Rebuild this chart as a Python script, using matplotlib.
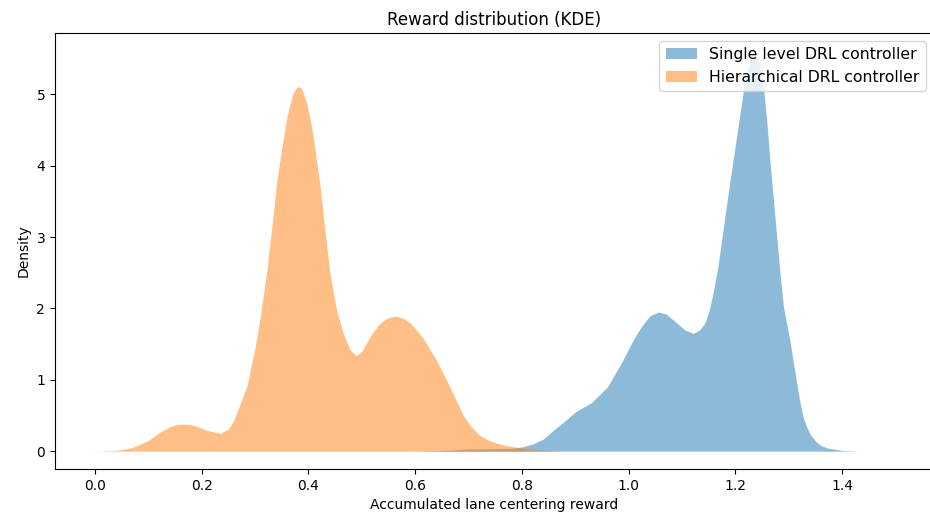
import matplotlib
matplotlib.use("Agg")
import matplotlib.pyplot as plt

# Density curves (reward value, density)
hier_x = [0.00, 0.04, 0.07, 0.10, 0.12, 0.14, 0.15, 0.165, 0.18, 0.19, 0.21, 0.235,
          0.25, 0.26, 0.285, 0.30, 0.31, 0.322, 0.33, 0.341, 0.35, 0.36, 0.37, 0.376,
          0.381, 0.386, 0.39, 0.397, 0.403, 0.41, 0.422, 0.43, 0.44, 0.452, 0.465,
          0.478, 0.489, 0.50, 0.515, 0.53, 0.54, 0.553, 0.565, 0.578, 0.59, 0.60,
          0.615, 0.64, 0.665, 0.69, 0.705, 0.72, 0.735, 0.75, 0.77, 0.79, 0.81,
          0.83, 0.87]
hier_d = [0.0, 0.01, 0.05, 0.15, 0.26, 0.34, 0.37, 0.38, 0.37, 0.35, 0.29, 0.25,
          0.31, 0.43, 0.92, 1.45, 1.90, 2.53, 3.05, 3.80, 4.25, 4.70, 4.99, 5.08,
          5.11, 5.09, 5.03, 4.87, 4.66, 4.35, 3.70, 3.15, 2.50, 2.00, 1.65,
          1.42, 1.34, 1.40, 1.60, 1.76, 1.83, 1.88, 1.89, 1.86, 1.80, 1.72,
          1.58, 1.27, 0.90, 0.50, 0.34, 0.23, 0.16, 0.12, 0.08, 0.055, 0.035,
          0.02, 0.0]

single_x = [0.60, 0.65, 0.70, 0.75, 0.78, 0.80, 0.82, 0.84, 0.86, 0.88, 0.90, 0.93,
            0.96, 0.985, 1.01, 1.025, 1.04, 1.056, 1.07, 1.085, 1.105, 1.121, 1.133,
            1.143, 1.151, 1.159, 1.167, 1.174, 1.182, 1.19, 1.203, 1.215, 1.222,
            1.228, 1.233, 1.237, 1.241, 1.245, 1.249, 1.253, 1.259, 1.265, 1.272,
            1.278, 1.284, 1.29, 1.296, 1.302, 1.309, 1.315, 1.321, 1.327, 1.334,
            1.34, 1.35, 1.36, 1.372, 1.385, 1.40, 1.43]
single_d = [0.0, 0.01, 0.03, 0.035, 0.04, 0.06, 0.10, 0.17, 0.30, 0.42, 0.55, 0.68,
            0.90, 1.22, 1.58, 1.76, 1.90, 1.95, 1.92, 1.83, 1.70, 1.65, 1.70,
            1.80, 1.98, 2.25, 2.58, 2.95, 3.38, 3.80, 4.45, 5.06, 5.32,
            5.48, 5.54, 5.55, 5.52, 5.45, 5.30, 5.06, 4.60, 4.03, 3.45,
            2.95, 2.45, 2.02, 1.78, 1.55, 1.22, 0.94, 0.68, 0.47, 0.33,
            0.24, 0.14, 0.08, 0.045, 0.03, 0.01, 0.0]

labels = ["Single level DRL controller", "Hierarchical DRL controller"]
x_ticks = [0.0, 0.2, 0.4, 0.6, 0.8, 1.0, 1.2, 1.4]
y_ticks = [0, 1, 2, 3, 4, 5]

fig = plt.figure(figsize=(9.3, 5.22), dpi=100)
ax = fig.add_axes([0.0591, 0.1015, 0.9452, 0.8353])

ax.fill_between(single_x, single_d, 0, color="tab:blue", alpha=0.5, linewidth=0,
                label=labels[0])
ax.fill_between(hier_x, hier_d, 0, color="tab:orange", alpha=0.5, linewidth=0,
                label=labels[1])

ax.set_xlim(-0.075, 1.572)
ax.set_ylim(-0.25, 5.86)
ax.set_xticks(x_ticks)
ax.set_yticks(y_ticks)
ax.set_title("Reward distribution (KDE)")
ax.set_xlabel("Accumulated lane centering reward")
ax.set_ylabel("Density")
ax.legend(loc="upper right", fontsize=11.3)

fig.savefig("out.png", dpi=100)
